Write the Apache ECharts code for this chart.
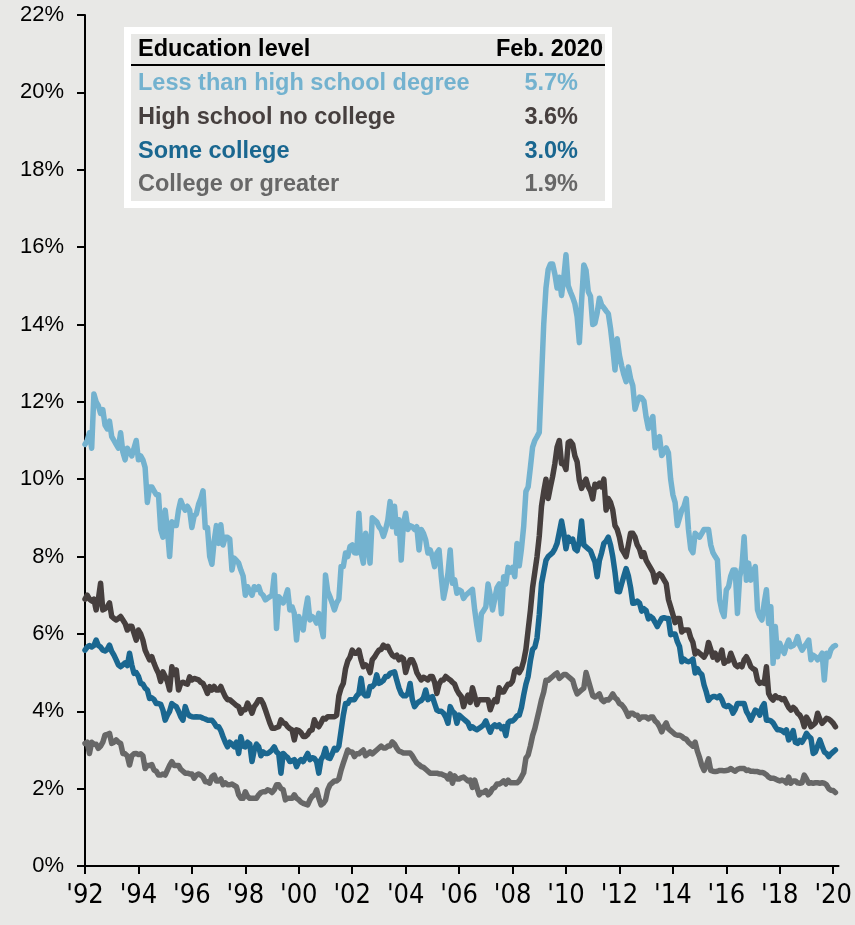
<!DOCTYPE html>
<html>
<head>
<meta charset="utf-8">
<title>Unemployment rate by education level</title>
<script src="https://cdn.jsdelivr.net/npm/echarts@6/dist/echarts.min.js"></script>
<style>
  html, body { margin: 0; padding: 0; background: #e8e8e6; }
  #chart { width: 855px; height: 925px; }
</style>
</head>
<body>
<div id="chart"></div>
<script>
// Monthly unemployment rates (%), January 1992 through February 2020
const startYear = 1992;

const lessThanHighSchool = [
  10.9, 11.0, 11.2, 10.8, 12.2, 12.0, 11.9, 11.7, 11.8, 11.4, 11.3, 11.5,
  11.1, 11.0, 10.9, 10.8, 11.2, 10.7, 10.5, 10.8, 10.7, 10.6, 10.8, 11.0,
  10.5, 10.6, 10.5, 10.3, 9.4, 9.8, 9.8, 9.7, 9.6, 9.6, 8.7, 8.5,
  9.2, 8.7, 8.0, 8.9, 8.8, 8.8, 9.2, 9.45, 9.3, 9.2, 9.3, 9.2,
  8.75, 9.05, 9.1, 9.35, 9.5, 9.7, 8.75, 8.75, 8.0, 7.8, 8.4, 8.8,
  8.34, 8.82, 8.3, 8.5, 8.5, 8.45, 7.65, 7.96, 7.9, 7.83, 7.65, 7.5,
  7.0, 7.22, 7.1, 7.0, 7.22, 7.15, 7.22, 7.05, 7.0, 6.88, 6.92, 6.96,
  7.0, 7.52, 6.14, 6.96, 6.9, 6.8, 6.95, 7.14, 6.62, 6.7, 6.53, 5.84,
  6.45, 6.3, 6.1, 6.6, 6.93, 6.36, 6.45, 6.4, 6.28, 6.53, 6.2, 5.93,
  7.52, 7.1, 6.96, 6.8, 6.62, 6.8, 6.9, 7.74, 7.74, 8.09, 8.0, 8.26,
  8.3, 8.1, 8.09, 9.12, 8.1, 7.83, 8.6, 8.35, 7.83, 9.0, 8.95, 8.9,
  8.77, 8.7, 8.52, 8.7, 8.95, 9.42, 8.77, 9.3, 8.6, 8.95, 7.91, 8.86,
  9.12, 8.7, 8.8, 8.77, 8.7, 8.77, 8.17, 8.7, 8.6, 8.43, 8.09, 8.17,
  8.0, 7.74, 8.09, 8.17, 7.48, 6.92, 7.2, 7.57, 8.17, 7.31, 7.4, 7.05,
  7.14, 7.1, 6.92, 7.0, 7.05, 7.1, 7.15, 6.62, 6.2, 5.85, 6.52, 6.6,
  6.7, 7.29, 7.0, 6.62, 6.9, 7.19, 7.29, 6.52, 7.48, 7.29, 7.72, 7.6,
  7.72, 7.48, 8.34, 7.76, 8.2, 8.78, 9.68, 9.8, 10.3, 10.83, 11.0, 11.1,
  11.21, 12.6, 14.0, 14.94, 15.42, 15.56, 15.56, 15.3, 14.94, 15.22, 14.75, 15.2,
  15.8, 15.0, 14.84, 14.7, 14.53, 14.2, 13.53, 14.6, 15.54, 15.4, 14.85, 14.73,
  14.0, 14.03, 14.3, 14.68, 14.5, 14.43, 14.35, 14.28, 13.9, 13.4, 12.82, 13.63,
  13.2, 12.93, 12.7, 12.52, 12.9, 12.6, 12.42, 11.81, 12.0, 12.12, 12.1, 12.02,
  11.6, 11.31, 11.5, 11.62, 10.81, 11.0, 11.1, 10.61, 10.7, 10.81, 10.68, 10.0,
  9.6, 9.4, 8.8, 9.0, 9.2, 9.3, 9.5, 8.7, 8.2, 8.1, 8.6, 8.55,
  8.5, 8.6, 8.7, 8.7, 8.7, 8.3, 8.1, 8.0, 7.91, 6.88, 6.6, 6.45,
  7.14, 7.22, 7.5, 7.65, 7.65, 6.53, 7.48, 7.74, 8.51, 7.39, 7.83, 7.39,
  7.6, 7.74, 6.62, 6.45, 6.36, 6.8, 7.14, 6.27, 6.7, 5.24, 6.19, 5.41,
  5.76, 5.6, 5.5, 5.7, 5.84, 5.67, 5.7, 5.76, 5.93, 5.7, 5.58, 5.67,
  5.75, 5.84, 5.33, 5.45, 5.41, 5.33, 5.4, 5.5, 4.81, 5.5, 5.41, 5.6,
  5.67, 5.7
];

const highSchoolNoCollege = [
  6.9, 7.0, 6.9, 6.85, 6.9, 6.62, 6.9, 7.31, 6.62, 6.65, 6.7, 6.8,
  6.45, 6.4, 6.36, 6.4, 6.45, 6.36, 6.27, 6.1, 6.2, 6.2, 6.02, 5.84,
  6.1, 6.0, 5.84, 5.58, 5.45, 5.33, 5.41, 5.24, 5.1, 4.98, 4.77, 5.02,
  4.9, 4.77, 4.55, 5.15, 4.95, 5.07, 4.55, 4.72, 4.75, 4.72, 4.7, 4.89,
  4.81, 4.85, 4.83, 4.81, 4.75, 4.72, 4.6, 4.46, 4.64, 4.55, 4.64, 4.55,
  4.55, 4.64, 4.5, 4.38, 4.3, 4.3, 4.25, 4.2, 4.15, 4.12, 3.95, 4.04,
  4.04, 4.21, 4.1, 3.95, 4.12, 4.2, 4.3, 4.3, 4.2, 4.04, 3.87, 3.7,
  3.56, 3.56, 3.58, 3.6, 3.78, 3.7, 3.68, 3.6, 3.55, 3.52, 3.26, 3.52,
  3.5, 3.45, 3.35, 3.35, 3.4, 3.5, 3.52, 3.78, 3.65, 3.6, 3.7, 3.82,
  3.8, 3.86, 3.86, 3.86, 3.86, 3.9, 4.4, 4.6, 4.72, 5.1, 5.3, 5.4,
  5.58, 5.5, 5.5, 5.58, 5.33, 5.15, 5.2, 5.15, 5.0, 5.33, 5.4, 5.5,
  5.58, 5.6, 5.71, 5.65, 5.68, 5.55, 5.45, 5.41, 5.45, 5.33, 5.4, 5.36,
  5.0, 5.2, 5.33, 5.33, 5.2, 5.0, 4.9, 4.81, 4.88, 4.85, 4.81, 4.9,
  4.9, 4.75, 4.46, 4.7, 4.8, 4.81, 4.9, 4.85, 4.81, 4.75, 4.7, 4.55,
  4.45, 4.38, 4.12, 4.3, 4.42, 4.23, 4.61, 4.4, 4.17, 4.3, 4.3, 4.3,
  4.3, 4.3, 4.04, 4.2, 4.3, 4.25, 4.61, 4.5, 4.5, 4.61, 4.7, 4.7,
  4.78, 5.05, 5.09, 5.0, 5.1, 5.3, 5.6, 6.1, 6.6, 7.2, 7.6, 8.0,
  8.53, 9.3, 9.68, 10.0, 9.5, 9.8, 10.07, 10.4, 10.83, 11.0, 10.4, 10.4,
  10.25, 10.95, 10.98, 10.9, 10.6, 10.45, 9.97, 9.76, 9.9, 10.0, 9.8, 9.7,
  9.49, 9.87, 9.8, 9.9, 9.8, 10.0, 9.2, 9.5, 9.4, 9.2, 8.8, 8.7,
  8.5, 8.2, 8.1, 8.0, 8.3, 8.6, 8.6, 8.5, 8.3, 8.2, 8.0, 8.1,
  7.9, 7.8, 7.7, 7.6, 7.34, 7.5, 7.55, 7.5, 7.4, 7.3, 6.89, 6.7,
  6.5, 6.29, 6.4, 6.4, 6.05, 6.1, 6.1, 6.1, 5.9, 5.78, 5.48, 5.55,
  5.5, 5.45, 5.4, 5.5, 5.78, 5.6, 5.4, 5.5, 5.33, 5.4, 5.58, 5.24,
  5.3, 5.3, 5.5, 5.35, 5.2, 5.15, 5.2, 5.15, 5.33, 5.41, 5.3, 5.15,
  5.1, 5.07, 4.8, 4.72, 4.75, 4.72, 5.15, 4.46, 4.35, 4.29, 4.4, 4.35,
  4.35, 4.3, 4.33, 4.21, 4.1, 4.03, 4.1, 4.05, 3.95, 3.9, 3.8, 3.6,
  3.85, 3.75, 3.6, 3.65, 3.7, 3.95, 3.8, 3.69, 3.75, 3.82, 3.8, 3.75,
  3.69, 3.6
];

const someCollege = [
  5.58, 5.66, 5.7, 5.66, 5.7, 5.84, 5.7, 5.66, 5.58, 5.56, 5.6, 5.71,
  5.55, 5.45, 5.33, 5.2, 5.15, 5.2, 5.25, 5.18, 5.5, 5.2, 4.98, 5.0,
  4.9, 4.72, 4.7, 4.6, 4.55, 4.33, 4.35, 4.3, 4.2, 4.2, 4.18, 4.03,
  3.77, 3.9, 4.0, 4.2, 4.15, 4.12, 4.0, 3.86, 3.77, 4.12, 3.95, 3.88,
  3.86, 3.85, 3.86, 3.85, 3.85, 3.82, 3.8, 3.77, 3.77, 3.77, 3.7, 3.6,
  3.6, 3.5, 3.34, 3.2, 3.08, 3.2, 3.15, 3.08, 3.2, 2.91, 3.34, 3.1,
  3.08, 3.2, 3.15, 2.7, 3.0, 3.15, 3.08, 2.85, 2.95, 2.91, 2.91, 2.95,
  3.0, 3.08, 2.95, 2.9, 2.4, 2.91, 2.85, 2.8, 2.7, 2.72, 2.75, 2.57,
  2.7, 2.75, 2.7, 2.8, 2.91, 2.75, 2.8, 2.78, 2.7, 2.4, 2.75, 2.85,
  3.04, 2.8, 2.78, 2.9, 3.04, 3.0, 3.1, 3.5, 3.9, 4.2, 4.2, 4.3,
  4.3, 4.3, 4.4, 4.46, 4.85, 4.46, 4.4, 4.4, 4.64, 4.64, 4.7, 4.94,
  4.72, 4.75, 4.8, 4.9, 4.9, 4.98, 5.0, 5.02, 4.8, 4.6, 4.46, 4.4,
  4.4, 4.46, 4.72, 4.3, 4.12, 4.2, 4.25, 4.28, 4.35, 4.55, 4.3, 4.35,
  4.38, 4.2, 4.03, 4.0, 4.0, 3.95, 3.85, 3.69, 4.12, 4.0, 3.95, 3.69,
  3.9, 3.85, 3.8, 3.75, 3.7, 3.56, 3.6, 3.55, 3.52, 3.56, 3.6, 3.65,
  3.75, 3.6, 3.46, 3.6, 3.65, 3.6, 3.65, 3.55, 3.6, 3.37, 3.7, 3.75,
  3.75, 3.8, 3.88, 3.9, 4.1, 4.42, 4.7, 4.9, 5.3, 5.6, 5.66, 5.9,
  6.5, 7.3, 7.6, 7.9, 8.0, 8.05, 8.1, 8.2, 8.34, 8.63, 8.92, 8.6,
  8.2, 8.5, 8.4, 8.45, 8.2, 8.15, 8.4, 8.92, 8.3, 8.25, 8.2, 8.15,
  8.0, 7.86, 7.48, 7.9, 8.1, 8.34, 8.4, 8.5, 8.3, 8.0, 7.6, 7.1,
  7.09, 7.3, 7.5, 7.69, 7.5, 7.2, 6.79, 6.8, 6.85, 6.8, 6.59, 6.65,
  6.6, 6.39, 6.45, 6.4, 6.3, 6.19, 6.3, 6.4, 6.42, 6.4, 6.4, 5.98,
  6.0, 6.0, 5.8, 5.67, 5.28, 5.35, 5.3, 5.28, 5.3, 5.35, 4.99, 5.1,
  5.0, 4.95, 4.68, 4.5, 4.28, 4.35, 4.38, 4.38, 4.35, 4.4, 4.3, 4.15,
  4.12, 4.15, 4.1, 3.95, 4.05, 4.2, 4.2, 4.2, 4.2, 4.0, 3.9, 3.77,
  3.9, 4.03, 4.0, 3.9, 4.1, 4.2, 3.77, 3.77, 3.75, 3.7, 3.6, 3.52,
  3.52, 3.5, 3.45, 3.52, 3.26, 3.35, 3.5, 3.2, 3.17, 3.25, 3.2, 3.3,
  3.43, 3.35, 3.3, 2.91, 2.95, 3.1, 3.26, 3.1, 2.95, 2.91, 2.83, 2.9,
  2.95, 3.0
];

const collegeOrGreater = [
  3.17, 3.2, 2.91, 3.2, 3.15, 3.15, 3.04, 3.1, 3.2, 3.39, 3.4, 3.43,
  3.17, 3.2, 3.26, 3.2, 3.17, 2.91, 2.9, 2.85, 2.61, 2.85, 2.9, 2.91,
  2.88, 2.9, 2.85, 2.52, 2.6, 2.6, 2.62, 2.48, 2.45, 2.35, 2.35, 2.38,
  2.35, 2.48, 2.6, 2.7, 2.6, 2.6, 2.6, 2.5, 2.45, 2.4, 2.4, 2.38,
  2.38, 2.27, 2.35, 2.38, 2.35, 2.3, 2.18, 2.18, 2.14, 2.31, 2.35, 2.2,
  2.2, 2.25, 2.1, 2.15, 2.1, 2.1, 2.12, 2.08, 2.05, 1.84, 1.75, 1.75,
  1.92, 1.8, 1.75, 1.75, 1.75, 1.75, 1.84, 1.9, 1.92, 1.92, 1.97, 1.95,
  1.9, 1.97, 2.1, 2.1, 2.0, 1.97, 1.71, 1.75, 1.75, 1.75, 1.84, 1.75,
  1.71, 1.65, 1.62, 1.6, 1.58, 1.71, 1.8, 1.84, 1.97, 1.75, 1.58, 1.62,
  1.7, 1.97, 2.1, 2.15, 2.2, 2.2, 2.25, 2.48, 2.66, 2.83, 3.0, 2.95,
  2.95, 2.83, 2.9, 2.9, 2.95, 3.0, 2.85, 2.9, 2.95, 2.9, 2.95, 3.0,
  3.05, 3.1, 3.05, 3.05, 3.1, 3.1, 3.21, 3.15, 3.05, 2.97, 2.95, 2.92,
  2.92, 2.92, 2.92, 2.85, 2.75, 2.66, 2.62, 2.57, 2.55, 2.5, 2.45, 2.4,
  2.4, 2.4, 2.4, 2.38, 2.38, 2.35, 2.33, 2.25, 2.38, 2.14, 2.33, 2.25,
  2.25, 2.28, 2.3, 2.25, 2.2, 2.22, 2.03, 2.22, 2.03, 1.84, 1.9, 1.9,
  1.95, 1.84, 1.9, 2.0, 2.03, 2.12, 2.12, 2.15, 2.2, 2.12, 2.22, 2.15,
  2.15, 2.15, 2.15, 2.2, 2.3, 2.41, 2.79, 2.87, 3.1, 3.37, 3.55, 3.8,
  4.04, 4.3, 4.5, 4.8, 4.8, 4.85, 4.9, 4.95, 4.99, 4.85, 4.9, 4.95,
  4.95, 4.9, 4.85, 4.8, 4.6, 4.45, 4.5, 4.55, 4.6, 5.0, 4.8, 4.6,
  4.4, 4.37, 4.4, 4.45, 4.3, 4.25, 4.3, 4.29, 4.35, 4.45, 4.35, 4.3,
  4.2, 4.17, 4.1, 4.0, 3.87, 3.95, 3.95, 3.9, 3.9, 3.8, 3.85, 3.85,
  3.85, 3.8, 3.85, 3.85, 3.75, 3.7, 3.6, 3.47, 3.6, 3.7, 3.55, 3.5,
  3.45, 3.4, 3.38, 3.38, 3.35, 3.3, 3.28, 3.2, 3.15, 3.1, 3.2, 2.97,
  2.8, 2.6, 2.47, 2.6, 2.77, 2.47, 2.45, 2.44, 2.45, 2.47, 2.47, 2.46,
  2.47, 2.48, 2.52, 2.48, 2.45, 2.5, 2.52, 2.52, 2.52, 2.47, 2.48, 2.45,
  2.45, 2.44, 2.44, 2.42, 2.42, 2.4, 2.36, 2.3, 2.27, 2.27, 2.25, 2.22,
  2.2, 2.22, 2.2, 2.15, 2.3, 2.14, 2.2, 2.2, 2.15, 2.14, 2.15, 2.35,
  2.25, 2.14, 2.15, 2.14, 2.15, 2.15, 2.14, 2.15, 2.14, 2.1, 2.0, 1.96,
  1.95, 1.9
];

const seriesNames = [
  'Less than high school degree',
  'High school no college',
  'Some college',
  'College or greater'
];
const seriesColors = ['#73b2cf', '#463f3e', '#1a6790', '#676767'];
const seriesValues = [lessThanHighSchool, highSchoolNoCollege, someCollege, collegeOrGreater];

const tableHeader = ['Education level', 'Feb. 2020'];
const tickYears = [1992, 1994, 1996, 1998, 2000, 2002, 2004, 2006, 2008, 2010, 2012, 2014, 2016, 2018, 2020];
const tickLabels = ["'92", "'94", "'96", "'98", "'00", "'02", "'04", "'06", "'08", "'10", "'12", "'14", "'16", "'18", "'20"];

const BG = '#e8e8e6';
const FONT = '"Liberation Sans", Arial, Helvetica, sans-serif';

// pair each monthly value with its fractional year
function toPoints(values) {
  return values.map((v, i) => [startYear + i / 12, v]);
}

const chart = echarts.init(document.getElementById('chart'), null, { renderer: 'canvas' });

// table of latest readings drawn over the plot
const tableLeft = 138, valueRight = 578, headerRight = 603;
const rowY = [84, 117.5, 151.5, 185];
const tableFont = 'bold 23.5px ' + FONT;
const tableGraphics = [
  {
    type: 'rect', z: 100,
    shape: { x: 127.5, y: 30.5, width: 481, height: 174 },
    style: { fill: BG, stroke: '#ffffff', lineWidth: 7 }
  },
  {
    type: 'text', z: 101, x: tableLeft, y: 50,
    style: { text: tableHeader[0], fill: '#000', font: tableFont, align: 'left', verticalAlign: 'middle' }
  },
  {
    type: 'text', z: 101, x: headerRight, y: 50,
    style: { text: tableHeader[1], fill: '#000', font: tableFont, align: 'right', verticalAlign: 'middle' }
  },
  {
    type: 'line', z: 101,
    shape: { x1: 131, y1: 65, x2: 605, y2: 65 },
    style: { stroke: '#000', lineWidth: 2 }
  }
];
seriesNames.forEach((name, k) => {
  const vals = seriesValues[k];
  const latest = vals[vals.length - 1];
  tableGraphics.push({
    type: 'text', z: 101, x: tableLeft, y: rowY[k],
    style: { text: name, fill: seriesColors[k], font: tableFont, align: 'left', verticalAlign: 'middle' }
  });
  tableGraphics.push({
    type: 'text', z: 101, x: valueRight, y: rowY[k],
    style: { text: latest.toFixed(1) + '%', fill: seriesColors[k], font: tableFont, align: 'right', verticalAlign: 'middle' }
  });
});

const option = {
  backgroundColor: BG,
  animation: false,
  grid: { left: 85, top: 15, width: 758, height: 851, containLabel: false },
  xAxis: {
    type: 'value',
    min: 1992,
    max: 2020.2,
    interval: 2,
    splitLine: { show: false },
    axisLine: { show: true, onZero: false, lineStyle: { color: '#000', width: 2 } },
    axisTick: {
      show: true, inside: false, length: 8, customValues: tickYears,
      lineStyle: { color: '#000', width: 2 }
    },
    axisLabel: {
      show: true, customValues: tickYears, margin: 16,
      color: '#000', fontFamily: '"Liberation Sans Narrow", "Arial Narrow", "DejaVu Sans Condensed", ' + FONT, fontSize: 27,
      formatter: (v) => tickLabels[tickYears.indexOf(Math.round(v))] || ''
    }
  },
  yAxis: {
    type: 'value',
    min: 0,
    max: 22,
    interval: 2,
    splitLine: { show: false },
    axisLine: { show: true, onZero: false, lineStyle: { color: '#000', width: 2 } },
    axisTick: { show: true, inside: false, length: 8, lineStyle: { color: '#000', width: 2 } },
    axisLabel: {
      color: '#000', fontFamily: FONT, fontSize: 22, margin: 21,
      formatter: '{value}%'
    }
  },
  series: seriesNames.map((name, k) => ({
    name,
    type: 'line',
    data: toPoints(seriesValues[k]),
    showSymbol: false,
    symbol: 'none',
    silent: true,
    lineStyle: { color: seriesColors[k], width: 5.5, join: 'round', cap: 'round' },
    z: 2
  })),
  graphic: tableGraphics
};

chart.setOption(option);
</script>
</body>
</html>
